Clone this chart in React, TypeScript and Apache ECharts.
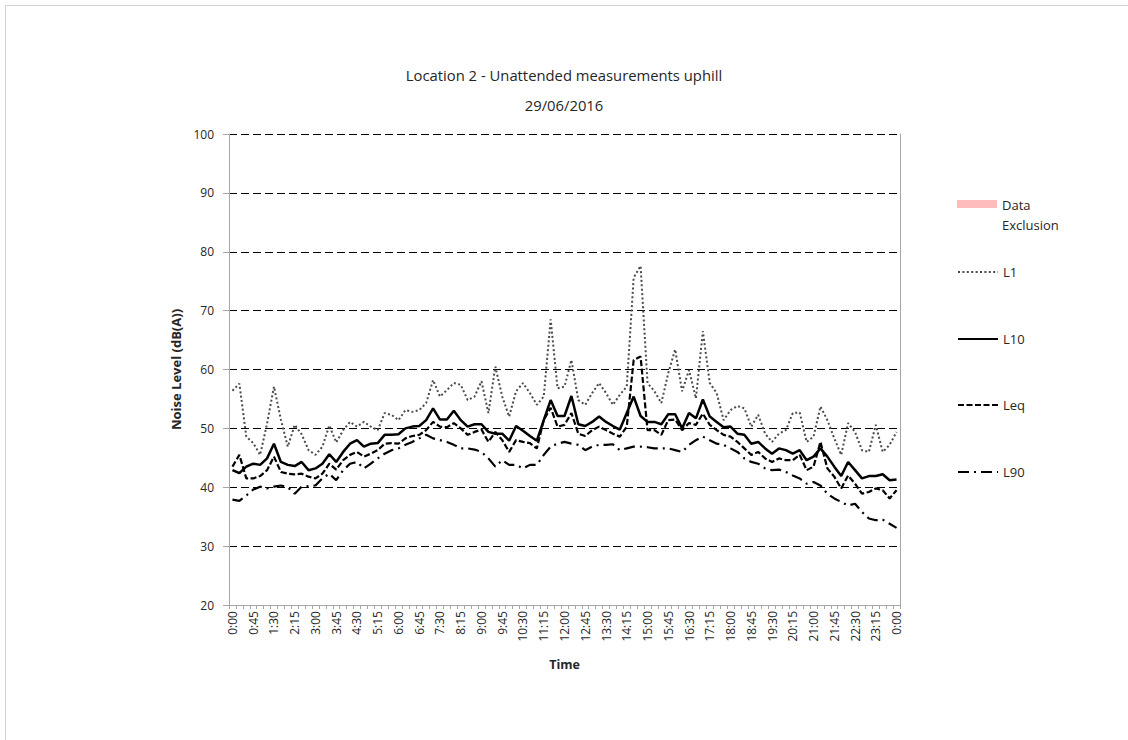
import React, { useEffect, useRef } from "react";
import * as echarts from "echarts";

const times = [
  "0:00", "0:15", "0:30", "0:45", "1:00", "1:15", "1:30", "1:45", "2:00", "2:15", "2:30", "2:45",
  "3:00", "3:15", "3:30", "3:45", "4:00", "4:15", "4:30", "4:45", "5:00", "5:15", "5:30", "5:45",
  "6:00", "6:15", "6:30", "6:45", "7:00", "7:15", "7:30", "7:45", "8:00", "8:15", "8:30", "8:45",
  "9:00", "9:15", "9:30", "9:45", "10:00", "10:15", "10:30", "10:45", "11:00", "11:15", "11:30", "11:45",
  "12:00", "12:15", "12:30", "12:45", "13:00", "13:15", "13:30", "13:45", "14:00", "14:15", "14:30", "14:45",
  "15:00", "15:15", "15:30", "15:45", "16:00", "16:15", "16:30", "16:45", "17:00", "17:15", "17:30", "17:45",
  "18:00", "18:15", "18:30", "18:45", "19:00", "19:15", "19:30", "19:45", "20:00", "20:15", "20:30", "20:45",
  "21:00", "21:15", "21:30", "21:45", "22:00", "22:15", "22:30", "22:45", "23:00", "23:15", "23:30", "23:45",
  "0:00",
];

const L1 = [
  56.4, 57.6, 48.6, 47.5, 45.5, 50.8, 57.1, 51.5, 46.9, 50.6,
  49.0, 46.3, 45.5, 46.9, 50.5, 47.6, 49.7, 51.1, 50.3, 51.1,
  50.3, 49.7, 52.6, 52.3, 51.4, 53.1, 52.8, 53.1, 54.3, 58.2,
  55.4, 56.5, 57.7, 57.4, 54.8, 55.4, 58.0, 52.6, 60.5, 55.4,
  52.0, 56.3, 57.7, 56.0, 54.0, 55.4, 68.5, 56.8, 57.1, 61.6,
  54.8, 54.0, 56.0, 57.7, 56.0, 54.0, 55.7, 57.1, 75.6, 77.6,
  57.7, 56.3, 54.3, 59.4, 63.4, 56.3, 59.9, 55.1, 66.5, 57.7,
  56.0, 51.4, 53.1, 53.8, 53.4, 50.3, 52.3, 49.1, 47.7, 49.1,
  49.7, 52.6, 52.7, 47.7, 48.6, 53.7, 51.4, 48.3, 45.5, 50.9,
  49.4, 46.3, 46.0, 50.6, 46.0, 47.2, 49.4,
];

const L10 = [
  42.9, 42.4, 43.5, 44.0, 43.8, 44.9, 47.4, 44.3, 43.8, 43.6,
  44.3, 42.9, 43.2, 44.0, 45.6, 44.3, 46.0, 47.4, 48.0, 46.9,
  47.4, 47.5, 48.9, 48.9, 49.0, 50.0, 50.3, 50.4, 51.4, 53.4,
  51.5, 51.5, 53.0, 51.4, 50.3, 50.7, 50.7, 49.4, 49.1, 49.1,
  47.9, 50.4, 49.6, 48.7, 47.9, 51.4, 54.8, 52.1, 52.1, 55.5,
  50.7, 50.4, 51.1, 52.0, 51.1, 50.4, 49.8, 52.6, 55.4, 52.1,
  51.1, 51.1, 50.7, 52.4, 52.4, 50.0, 52.6, 51.7, 54.9, 52.0,
  51.1, 50.2, 50.3, 49.1, 48.9, 47.4, 47.7, 46.6, 45.7, 46.6,
  46.3, 45.7, 46.3, 44.6, 45.2, 46.6, 45.2, 43.5, 41.9, 44.3,
  42.9, 41.5, 41.9, 41.9, 42.2, 41.2, 41.3,
];

const Leq = [
  43.5, 45.5, 41.5, 41.5, 41.9, 42.9, 45.2, 42.6, 42.3, 42.2,
  42.3, 41.8, 41.5, 42.3, 44.0, 43.0, 44.6, 45.5, 46.0, 45.2,
  45.7, 46.3, 47.4, 47.5, 47.4, 48.3, 48.7, 48.9, 49.7, 51.1,
  50.3, 50.2, 50.9, 50.0, 48.9, 49.4, 49.8, 47.7, 49.4, 48.0,
  46.0, 48.0, 47.7, 47.5, 46.6, 51.4, 53.5, 50.3, 50.6, 52.6,
  49.1, 48.7, 49.7, 50.3, 49.7, 49.1, 48.6, 50.3, 61.6, 62.2,
  49.7, 49.7, 48.9, 51.4, 51.5, 49.7, 50.9, 50.6, 52.5, 50.6,
  49.7, 48.9, 48.6, 47.7, 46.6, 45.5, 46.0, 44.9, 44.3, 44.9,
  44.6, 44.6, 45.5, 42.9, 43.5, 47.7, 43.2, 41.8, 39.8, 42.0,
  40.6, 38.9, 39.2, 39.8, 39.5, 38.1, 39.5,
];

const L90 = [
  37.9, 37.7, 38.6, 39.6, 40.1, 39.8, 40.1, 40.3, 40.0, 38.9,
  40.1, 40.2, 40.3, 41.5, 42.3, 41.2, 42.9, 44.0, 44.3, 43.2,
  44.0, 44.9, 45.7, 46.3, 46.6, 47.2, 47.7, 48.3, 48.9, 48.3,
  48.0, 47.7, 47.2, 46.6, 46.6, 46.4, 46.0, 44.9, 43.5, 44.6,
  43.8, 43.8, 43.2, 43.8, 43.8, 45.5, 46.9, 47.4, 47.7, 47.4,
  47.2, 46.3, 46.9, 47.2, 47.2, 47.3, 46.3, 46.6, 46.9, 46.9,
  46.8, 46.6, 46.6, 46.6, 46.3, 46.0, 47.2, 48.0, 48.6, 48.0,
  47.4, 47.2, 46.6, 46.0, 44.9, 44.3, 44.0, 43.2, 42.9, 43.0,
  42.6, 42.0, 41.5, 40.6, 40.9, 40.3, 38.9, 38.1, 37.5, 36.9,
  37.2, 35.8, 34.7, 34.4, 34.5, 33.8, 33.1,
];

const dataExclusion: (number | null)[] = [];

const Y_MIN = 20;
const Y_MAX = 100;
const Y_STEP = 10;

const FONT = "'Open Sans', 'Noto Sans', sans-serif";
const TEXT = "#262626";
const AXIS_GREY = "#a6a6a6";

export default function App() {
  const ref = useRef<HTMLDivElement>(null);

  useEffect(() => {
    if (!ref.current) return;
    const chart = echarts.init(ref.current, null, { renderer: "svg" });

    const legendBase = {
      left: 957,
      orient: "vertical" as const,
      padding: 0,
      itemWidth: 40,
      itemGap: 0,
      textStyle: { fontFamily: FONT, fontSize: 13, color: TEXT, lineHeight: 16 },
      selectedMode: false,
    };
    const lineLegend = {
      ...legendBase,
      itemHeight: 10,
      itemStyle: { opacity: 0, borderWidth: 0 },
    };

    chart.setOption({
      animation: false,
      backgroundColor: "#ffffff",
      textStyle: { fontFamily: FONT },
      title: {
        text: "Location 2 - Unattended measurements uphill",
        subtext: "29/06/2016",
        left: "center",
        top: 66,
        padding: 0,
        itemGap: 12,
        textStyle: { fontFamily: FONT, fontSize: 14.8, fontWeight: "normal", color: TEXT, lineHeight: 18 },
        subtextStyle: { fontFamily: FONT, fontSize: 14.8, color: TEXT, lineHeight: 18 },
      },
      legend: [
        {
          ...legendBase,
          top: 195,
          data: ["Data Exclusion"],
          icon: "path://M0,0L40,0L40,8L0,8Z M0,30L40,30",
          itemHeight: 30,
          formatter: () => "Data\nExclusion",
          textStyle: { fontFamily: FONT, fontSize: 13, color: TEXT, lineHeight: 20 },
        },
        { ...lineLegend, top: 264, data: ["L1"] },
        { ...lineLegend, top: 331, data: ["L10"] },
        { ...lineLegend, top: 397, data: ["Leq"] },
        { ...lineLegend, top: 464, data: ["L90"] },
      ],
      grid: { left: 229, top: 134, width: 671, height: 471, containLabel: false },
      xAxis: {
        type: "category",
        data: times,
        boundaryGap: true,
        z: 3,
        name: "Time",
        nameLocation: "middle",
        nameGap: 53,
        nameTextStyle: { fontFamily: FONT, fontSize: 12.5, fontWeight: "bold", color: TEXT },
        axisLine: { show: true, lineStyle: { color: AXIS_GREY, width: 1 } },
        axisTick: { show: true, interval: 0, length: 4, lineStyle: { color: AXIS_GREY } },
        axisLabel: {
          interval: 2,
          rotate: 90,
          margin: 6,
          fontFamily: FONT,
          fontSize: 12,
          color: TEXT,
        },
        splitLine: { show: false },
      },
      yAxis: [
        {
          type: "value",
          min: Y_MIN,
          max: Y_MAX,
          interval: Y_STEP,
          name: "Noise Level (dB(A))",
          nameLocation: "middle",
          nameGap: 43,
          nameTextStyle: { fontFamily: FONT, fontSize: 13, fontWeight: "bold", color: TEXT },
          axisLine: { show: true, lineStyle: { color: AXIS_GREY, width: 1 } },
          axisTick: { show: true, length: 6, lineStyle: { color: AXIS_GREY } },
          axisLabel: { margin: 15, fontFamily: FONT, fontSize: 12, color: TEXT },
          splitLine: { show: true, lineStyle: { color: "#000000", width: 1, type: [8, 4] } },
        },
        {
          type: "value",
          position: "right",
          min: Y_MIN,
          max: Y_MAX,
          interval: Y_STEP,
          axisLine: { show: true, lineStyle: { color: AXIS_GREY, width: 1 } },
          axisTick: { show: false },
          axisLabel: { show: false },
          splitLine: { show: false },
        },
      ],
      series: [
        {
          name: "Data Exclusion",
          type: "bar",
          data: dataExclusion,
          itemStyle: { color: "#ffbcbc" },
        },
        {
          name: "L1",
          type: "line",
          data: L1,
          symbol: "none",
          itemStyle: { color: "#4a4a4a" },
          lineStyle: { color: "#4a4a4a", width: 2, type: [2, 2.4] },
        },
        {
          name: "L10",
          type: "line",
          data: L10,
          symbol: "none",
          itemStyle: { color: "#000000" },
          lineStyle: { color: "#000000", width: 2.5 },
        },
        {
          name: "Leq",
          type: "line",
          data: Leq,
          symbol: "none",
          itemStyle: { color: "#000000" },
          lineStyle: { color: "#000000", width: 2.2, type: [6, 2.5] },
        },
        {
          name: "L90",
          type: "line",
          data: L90,
          symbol: "none",
          itemStyle: { color: "#000000" },
          lineStyle: { color: "#000000", width: 2.2, type: [11, 5, 2, 5] },
        },
      ],
      graphic: [
        {
          type: "rect",
          silent: true,
          z: -1,
          shape: { x: 5.5, y: 5.5, width: 1140, height: 760 },
          style: { fill: "none", stroke: "#d0d0d0", lineWidth: 1 },
        },
      ],
    });

    return () => {
      chart.dispose();
    };
  }, []);

  return (
    <div
      ref={ref}
      style={{ position: "fixed", left: 0, top: 0, width: 1128, height: 740, background: "#ffffff" }}
    />
  );
}
